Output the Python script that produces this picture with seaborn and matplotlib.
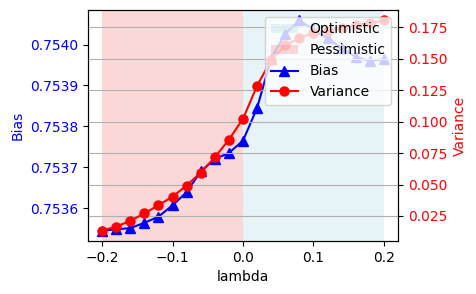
import matplotlib

matplotlib.use("Agg")
import matplotlib.pyplot as plt
import pandas as pd
import seaborn as sns

lambdas = [-0.20, -0.18, -0.16, -0.14, -0.12, -0.10, -0.08, -0.06, -0.04, -0.02,
           0.00, 0.02, 0.04, 0.06, 0.08, 0.10, 0.12, 0.14, 0.16, 0.18, 0.20]
bias = [0.753545, 0.753548, 0.753551, 0.753564, 0.753579, 0.753607, 0.753639,
        0.753690, 0.753720, 0.753735, 0.753765, 0.753845, 0.753966, 0.754027,
        0.754059, 0.754037, 0.754015, 0.753992, 0.753970, 0.753960, 0.753964]
variance = [0.0134, 0.0166, 0.0211, 0.0271, 0.0335, 0.0404, 0.0492, 0.0595,
            0.0716, 0.0857, 0.1022, 0.1284, 0.1490, 0.1605, 0.1663, 0.1705,
            0.1718, 0.1745, 0.1767, 0.1783, 0.1803]

df = pd.DataFrame({"lambda": lambdas, "bias": bias, "variance": variance})

fig, ax1 = plt.subplots(figsize=(4.76, 2.94), dpi=100)
fig.subplots_adjust(left=0.185, right=0.836, top=0.966, bottom=0.18)

ax1.axvspan(0.0, 0.2, color="lightblue", alpha=0.3, lw=0, label="Optimistic")
ax1.axvspan(-0.2, 0.0, color="lightcoral", alpha=0.3, lw=0, label="Pessimistic")

sns.lineplot(data=df, x="lambda", y="bias", ax=ax1, color="blue", marker="^",
             markersize=6.5, markeredgewidth=1, markeredgecolor="blue",
             label="Bias", legend=False)
ax1.set_xlabel("lambda")
ax1.set_ylabel("Bias", color="blue")
ax1.tick_params(axis="y", labelcolor="blue")

ax2 = ax1.twinx()
sns.lineplot(data=df, x="lambda", y="variance", ax=ax2, color="red", marker="o",
             markersize=6.5, markeredgewidth=1, markeredgecolor="red",
             label="Variance", legend=False)
ax2.set_ylabel("Variance", color="red")
ax2.tick_params(axis="y", labelcolor="red")
ax2.grid(axis="y")

h1, l1 = ax1.get_legend_handles_labels()
h2, l2 = ax2.get_legend_handles_labels()
ax2.legend(h1 + h2, l1 + l2, loc="upper right")

fig.savefig("out.png", dpi=100)
